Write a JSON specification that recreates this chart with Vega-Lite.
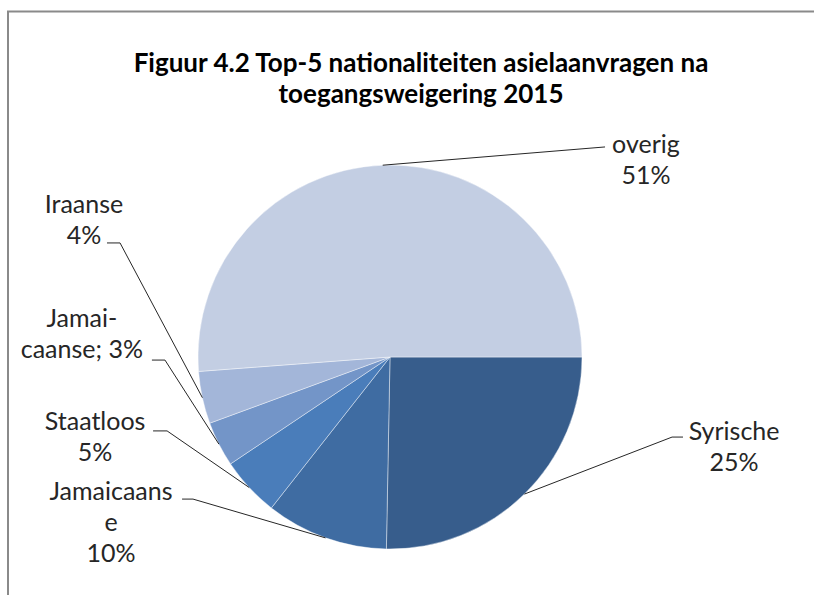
{
  "$schema": "https://vega.github.io/schema/vega-lite/v6.json",
  "usermeta": {"embedOptions": {"actions": false}},
  "width": 814,
  "height": 595,
  "autosize": "none",
  "padding": 0,
  "background": "white",
  "config": {"view": {"stroke": null}},
  "title": {
    "text": ["Figuur 4.2 Top-5 nationaliteiten asielaanvragen na", "toegangsweigering 2015"],
    "font": "Lato",
    "fontSize": 26,
    "fontWeight": "bold",
    "color": "#000000",
    "anchor": "middle",
    "frame": "group",
    "dx": 14,
    "baseline": "alphabetic",
    "offset": -129,
    "lineHeight": 31
  },
  "datasets": {
    "aandelen": [
      {"nationaliteit": "Syrische", "aandeel": 25.3, "volgorde": 1},
      {"nationaliteit": "Jamaicaanse", "aandeel": 10.3, "volgorde": 2},
      {"nationaliteit": "Staatloos", "aandeel": 5.0, "volgorde": 3},
      {"nationaliteit": "Jamai-caanse", "aandeel": 3.8, "volgorde": 4},
      {"nationaliteit": "Iraanse", "aandeel": 4.4, "volgorde": 5},
      {"nationaliteit": "overig", "aandeel": 51.2, "volgorde": 6}
    ],
    "labels": [
      {"tekst": "overig\n51%", "lx": 1.333, "ly": 1.063},
      {"tekst": "Syrische\n25%", "lx": 1.792, "ly": -0.432},
      {"tekst": "Iraanse\n4%", "lx": -1.594, "ly": 0.75},
      {"tekst": "Jamai-\ncaanse; 3%", "lx": -1.605, "ly": 0.156},
      {"tekst": "Staatloos\n5%", "lx": -1.536, "ly": -0.38},
      {"tekst": "Jamaicaans\ne\n10%", "lx": -1.453, "ly": -0.745}
    ],
    "lijnen": [
      {"lijn": "overig", "punt": 1, "lx": -0.038, "ly": 0.999},
      {"lijn": "overig", "punt": 2, "lx": 1.12, "ly": 1.094},
      {"lijn": "Syrische", "punt": 1, "lx": 0.7, "ly": -0.714},
      {"lijn": "Syrische", "punt": 2, "lx": 1.469, "ly": -0.417},
      {"lijn": "Syrische", "punt": 3, "lx": 1.526, "ly": -0.417},
      {"lijn": "Jamaicaanse", "punt": 1, "lx": -0.336, "ly": -0.942},
      {"lijn": "Jamaicaanse", "punt": 2, "lx": -1.026, "ly": -0.74},
      {"lijn": "Jamaicaanse", "punt": 3, "lx": -1.083, "ly": -0.74},
      {"lijn": "Staatloos", "punt": 1, "lx": -0.733, "ly": -0.68},
      {"lijn": "Staatloos", "punt": 2, "lx": -1.161, "ly": -0.385},
      {"lijn": "Staatloos", "punt": 3, "lx": -1.234, "ly": -0.385},
      {"lijn": "Jamai-caanse", "punt": 1, "lx": -0.891, "ly": -0.454},
      {"lijn": "Jamai-caanse", "punt": 2, "lx": -1.172, "ly": -0.016},
      {"lijn": "Jamai-caanse", "punt": 3, "lx": -1.24, "ly": -0.016},
      {"lijn": "Iraanse", "punt": 1, "lx": -0.977, "ly": -0.212},
      {"lijn": "Iraanse", "punt": 2, "lx": -1.406, "ly": 0.594},
      {"lijn": "Iraanse", "punt": 3, "lx": -1.474, "ly": 0.594}
    ]
  },
  "layer": [
    {
      "data": {"values": [{}]},
      "mark": {"type": "rect", "fill": null, "stroke": "#8a8a8a", "strokeWidth": 2},
      "encoding": {
        "x": {"datum": -1.9896, "type": "quantitative", "scale": {"domain": [-2.03125, 2.208333], "nice": false, "zero": false}, "axis": null},
        "x2": {"datum": 3.5},
        "y": {"datum": 1.8, "type": "quantitative", "scale": {"domain": [-1.239583, 1.859375], "nice": false, "zero": false}, "axis": null},
        "y2": {"datum": -2.5}
      }
    },
    {
      "data": {"name": "aandelen"},
      "mark": {"type": "arc", "outerRadius": 192, "stroke": "#ffffff", "strokeWidth": 0.7, "strokeOpacity": 0.6},
      "encoding": {
        "x": {"datum": 0, "type": "quantitative"},
        "y": {"datum": 0, "type": "quantitative"},
        "theta": {"field": "aandeel", "type": "quantitative", "stack": true, "scale": {"range": [1.5707963, 7.8539816]}},
        "order": {"field": "volgorde", "type": "quantitative"},
        "color": {
          "field": "nationaliteit",
          "type": "nominal",
          "legend": null,
          "scale": {
            "domain": ["Syrische", "Jamaicaanse", "Staatloos", "Jamai-caanse", "Iraanse", "overig"],
            "range": ["#375D8C", "#3F6CA2", "#4A7DBA", "#7395C8", "#A3B6D9", "#C3CEE3"]
          }
        }
      }
    },
    {
      "data": {"name": "lijnen"},
      "mark": {"type": "line", "color": "#262626", "strokeWidth": 1},
      "encoding": {
        "x": {"field": "lx", "type": "quantitative"},
        "y": {"field": "ly", "type": "quantitative"},
        "detail": {"field": "lijn", "type": "nominal"},
        "order": {"field": "punt", "type": "quantitative"}
      }
    },
    {
      "data": {"name": "labels"},
      "mark": {"type": "text", "font": "Lato", "fontSize": 25, "color": "#262626", "align": "center", "baseline": "alphabetic", "lineBreak": "\n", "lineHeight": 31},
      "encoding": {
        "x": {"field": "lx", "type": "quantitative"},
        "y": {"field": "ly", "type": "quantitative"},
        "text": {"field": "tekst", "type": "nominal"}
      }
    }
  ]
}
